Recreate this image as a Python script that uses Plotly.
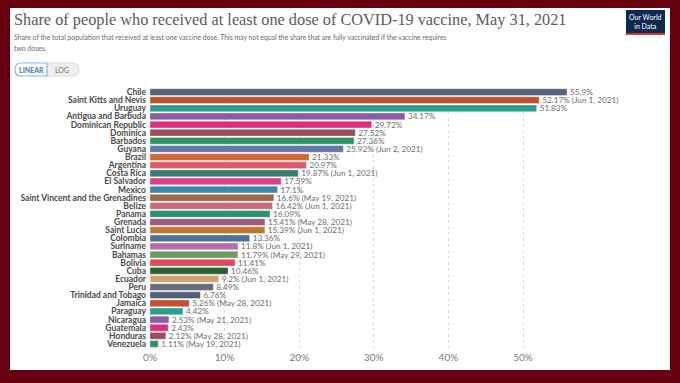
import plotly.graph_objects as go

countries = ["Chile", "Saint Kitts and Nevis", "Uruguay", "Antigua and Barbuda", "Dominican Republic",
             "Dominica", "Barbados", "Guyana", "Brazil", "Argentina", "Costa Rica", "El Salvador", "Mexico",
             "Saint Vincent and the Grenadines", "Belize", "Panama", "Grenada", "Saint Lucia", "Colombia",
             "Suriname", "Bahamas", "Bolivia", "Cuba", "Ecuador", "Peru", "Trinidad and Tobago", "Jamaica",
             "Paraguay", "Nicaragua", "Guatemala", "Honduras", "Venezuela"]
values = [55.9, 52.17, 51.83, 34.17, 29.72, 27.52, 27.36, 25.92, 21.33, 20.97, 19.87, 17.59, 17.1,
          16.6, 16.42, 16.09, 15.41, 15.39, 13.36, 11.8, 11.79, 11.41, 10.46, 9.2, 8.49, 6.76, 5.26,
          4.42, 2.53, 2.43, 2.12, 1.11]
dates = ["", "Jun 1, 2021", "", "", "", "", "", "Jun 2, 2021", "", "", "Jun 1, 2021", "", "",
         "May 19, 2021", "Jun 1, 2021", "", "May 28, 2021", "Jun 1, 2021", "", "Jun 1, 2021",
         "May 29, 2021", "", "", "Jun 1, 2021", "", "", "May 28, 2021", "", "May 21, 2021", "",
         "May 28, 2021", "May 19, 2021"]
colors = ["#566577", "#BE5330", "#2A9D8F", "#8A5BA6", "#DC2E80", "#9B4E56", "#2B9466", "#6478A4",
          "#CD6A36", "#E05A6A", "#3A7C6E", "#D9408E", "#3A88A8", "#A36447", "#CC6A7B", "#2A9474",
          "#9C5A7E", "#C0762E", "#4D729A", "#B56DAD", "#6E9B5F", "#E04A5E", "#305F30", "#D1A273",
          "#6B6E78", "#505E75", "#C0532E", "#2A9D8F", "#8A5BA6", "#DC2E80", "#9B4E56", "#2B9466"]
tick_vals = [0, 10, 20, 30, 40, 50]
tick_text = ["0%", "10%", "20%", "30%", "40%", "50%"]

labels = [f"{v:g}%" + (f" ({d})" if d else "") for v, d in zip(values, dates)]

W, H = 680, 383
ML, MR, MT, MB = 150, 82, 88, 35
pw, ph = W - ML - MR, H - MT - MB

def px_x(x):
    return (x - ML) / pw

def px_y(y):
    return (H - MB - y) / ph

fig = go.Figure(go.Bar(
    x=values, y=countries, orientation="h",
    marker=dict(color=colors, line=dict(color="rgba(255,255,255,0.6)", width=0.6)),
    text=labels, textposition="outside", constraintext="none", cliponaxis=False,
    textfont=dict(family="Lato", size=8.2, color="#6e6e6e"),
    hoverinfo="skip",
))

fig.update_layout(
    width=W, height=H,
    margin=dict(l=ML, r=MR, t=MT, b=MB, pad=0, autoexpand=False),
    paper_bgcolor="#66000e",
    plot_bgcolor="rgba(0,0,0,0)",
    bargap=0.16,
    showlegend=False,
    xaxis=dict(range=[0, (pw) / 7.46], tickvals=tick_vals, ticktext=tick_text, automargin=False,
               showgrid=True, gridcolor="#d8d8d8", griddash="dot", gridwidth=1,
               zeroline=False, showline=False, ticks="", ticklabelstandoff=2,
               tickfont=dict(family="Lato", size=10, color="#7a7a7a"), fixedrange=True),
    yaxis=dict(autorange="reversed", showgrid=False, zeroline=False, showline=False, ticks="",
               tickmode="array", tickvals=countries, automargin=False,
               ticklabelstandoff=3,
               tickfont=dict(family="Lato", size=8.5, color="#4a4a4a", weight="bold"), fixedrange=True),
    shapes=[
        dict(type="rect", xref="paper", yref="paper", layer="below",
             x0=px_x(10), x1=px_x(670), y0=px_y(370), y1=px_y(8),
             fillcolor="white", line=dict(width=0)),
        # OWID logo
        dict(type="rect", xref="paper", yref="paper", layer="above",
             x0=px_x(626), x1=px_x(665), y0=px_y(33), y1=px_y(10),
             fillcolor="#0f2a52", line=dict(width=0)),
        dict(type="rect", xref="paper", yref="paper", layer="above",
             x0=px_x(626), x1=px_x(665), y0=px_y(35), y1=px_y(33),
             fillcolor="#d5382e", line=dict(width=0)),
        # toggle buttons
        dict(type="path", xref="paper", yref="paper", layer="above",
             path=(f"M {px_x(47)},{px_y(63)} L {px_x(73)},{px_y(63)} "
                   f"Q {px_x(79)},{px_y(63)} {px_x(79)},{px_y(69.5)} "
                   f"Q {px_x(79)},{px_y(76)} {px_x(73)},{px_y(76)} "
                   f"L {px_x(47)},{px_y(76)} Z"),
             fillcolor="#efefef", line=dict(color="#dcdcdc", width=1)),
        dict(type="path", xref="paper", yref="paper", layer="above",
             path=(f"M {px_x(21)},{px_y(63)} L {px_x(47)},{px_y(63)} "
                   f"L {px_x(47)},{px_y(76)} L {px_x(21)},{px_y(76)} "
                   f"Q {px_x(15)},{px_y(76)} {px_x(15)},{px_y(69.5)} "
                   f"Q {px_x(15)},{px_y(63)} {px_x(21)},{px_y(63)} Z"),
             fillcolor="white", line=dict(color="#8ab6e8", width=1.2)),
    ],
    annotations=[
        dict(xref="paper", yref="paper", x=px_x(12), y=px_y(19), xanchor="left", yanchor="middle",
             text="Share of people who received at least one dose of COVID-19 vaccine, May 31, 2021",
             showarrow=False, font=dict(family="Liberation Serif", size=16.3, color="#5b5b5b")),
        dict(xref="paper", yref="paper", x=px_x(12), y=px_y(37), xanchor="left", yanchor="middle",
             text="Share of the total population that received at least one vaccine dose. This may not equal the share that are fully vaccinated if the vaccine requires",
             showarrow=False, font=dict(family="Lato", size=6.85, color="#6a6a6a")),
        dict(xref="paper", yref="paper", x=px_x(12), y=px_y(48), xanchor="left", yanchor="middle",
             text="two doses.",
             showarrow=False, font=dict(family="Lato", size=6.85, color="#6a6a6a")),
        dict(xref="paper", yref="paper", x=px_x(31), y=px_y(69.5), xanchor="center", yanchor="middle",
             text="LINEAR", showarrow=False,
             font=dict(family="Lato", size=7, color="#3b78bf", weight="bold")),
        dict(xref="paper", yref="paper", x=px_x(62), y=px_y(69.5), xanchor="center", yanchor="middle",
             text="LOG", showarrow=False,
             font=dict(family="Lato", size=7, color="#777777")),
        dict(xref="paper", yref="paper", x=px_x(645.5), y=px_y(21.5), xanchor="center", yanchor="middle",
             text="Our World<br>in Data", showarrow=False,
             font=dict(family="Lato", size=7, color="white")),
    ],
)

fig.write_html("out.html", config={"displayModeBar": False},
               post_script="document.body.style.margin='0';document.body.style.background='#66000e';")
